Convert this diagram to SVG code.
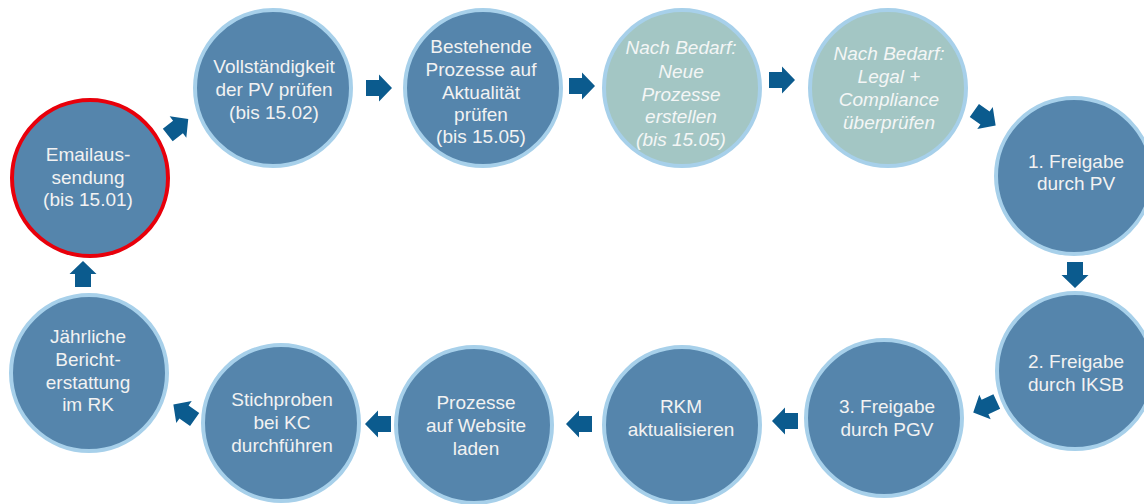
<svg xmlns="http://www.w3.org/2000/svg" xmlns:xlink="http://www.w3.org/1999/xlink" width="1144" height="504" viewBox="0 0 1144 504">
<style>
.c{fill:#5585AC;stroke:#A7D0EA;stroke-width:4}
.g{fill:#A3C6C4;stroke:#A7D0EA;stroke-width:4}
.r{fill:#5585AC;stroke:#E8000B;stroke-width:4}
text{font-family:"Liberation Sans",Arial,sans-serif;font-size:19px;fill:#F2F2F2;text-anchor:middle}
.i{font-style:italic;fill:#F4F6F6}
.a{fill:#0B5B8E}
</style>
<defs>
<path id="arr" d="M-13,-8 H0 V-13.5 L13,0 L0,13.5 V8 H-13 Z"/>
</defs>
<g id="connectors">
<use href="#arr" class="a" transform="translate(178,127) rotate(-38)"/>
<use href="#arr" class="a" transform="translate(379,88)"/>
<use href="#arr" class="a" transform="translate(582,86)"/>
<use href="#arr" class="a" transform="translate(782,80)"/>
<use href="#arr" class="a" transform="translate(985,118) rotate(35)"/>
<use href="#arr" class="a" transform="translate(1075,275) rotate(90)"/>
<use href="#arr" class="a" transform="translate(985,407) rotate(155)"/>
<use href="#arr" class="a" transform="translate(785,421) rotate(180)"/>
<use href="#arr" class="a" transform="translate(579,424) rotate(180)"/>
<use href="#arr" class="a" transform="translate(378,424) rotate(180)"/>
<use href="#arr" class="a" transform="translate(184,412) rotate(-145)"/>
<use href="#arr" class="a" transform="translate(83,274) rotate(-90)"/>
</g>
<g id="n1"><circle class="r" cx="90" cy="178" r="78"/>
<text x="88" y="161">Emailaus-</text><text x="88" y="184">sendung</text><text x="88" y="206">(bis 15.01)</text></g>
<g id="n2"><circle class="c" cx="273" cy="88" r="78"/>
<text x="274" y="73">Vollständigkeit</text><text x="274" y="96">der PV prüfen</text><text x="274" y="119">(bis 15.02)</text></g>
<g id="n3"><circle class="c" cx="483" cy="88" r="78"/>
<text x="481" y="53">Bestehende</text><text x="481" y="76">Prozesse auf</text><text x="481" y="99">Aktualität</text><text x="481" y="121">prüfen</text><text x="481" y="143">(bis 15.05)</text></g>
<g id="n4"><circle class="g" cx="682" cy="88" r="78"/>
<text class="i" x="681" y="54">Nach Bedarf:</text><text class="i" x="681" y="78">Neue</text><text class="i" x="681" y="101">Prozesse</text><text class="i" x="681" y="123">erstellen</text><text class="i" x="681" y="146">(bis 15.05)</text></g>
<g id="n5"><circle class="g" cx="888" cy="88" r="78"/>
<text class="i" x="889" y="60">Nach Bedarf:</text><text class="i" x="889" y="83">Legal +</text><text class="i" x="889" y="106">Compliance</text><text class="i" x="889" y="129">überprüfen</text></g>
<g id="n6"><circle class="c" cx="1074" cy="176" r="78"/>
<text x="1076" y="168">1. Freigabe</text><text x="1076" y="190">durch PV</text></g>
<g id="n7"><circle class="c" cx="1075" cy="371" r="78"/>
<text x="1076" y="368">2. Freigabe</text><text x="1076" y="391">durch IKSB</text></g>
<g id="n8"><circle class="c" cx="884" cy="418" r="78"/>
<text x="887" y="413">3. Freigabe</text><text x="887" y="436">durch PGV</text></g>
<g id="n9"><circle class="c" cx="682" cy="425" r="78"/>
<text x="681" y="413">RKM</text><text x="681" y="436">aktualisieren</text></g>
<g id="n10"><circle class="c" cx="474" cy="425" r="78"/>
<text x="476" y="409">Prozesse</text><text x="476" y="432">auf Website</text><text x="476" y="455">laden</text></g>
<g id="n11"><circle class="c" cx="281" cy="423" r="78"/>
<text x="282" y="406">Stichproben</text><text x="282" y="429">bei KC</text><text x="282" y="452">durchführen</text></g>
<g id="n12"><circle class="c" cx="89" cy="373" r="78"/>
<text x="88" y="343">Jährliche</text><text x="88" y="366">Bericht-</text><text x="88" y="389">erstattung</text><text x="88" y="411">im RK</text></g>
</svg>
